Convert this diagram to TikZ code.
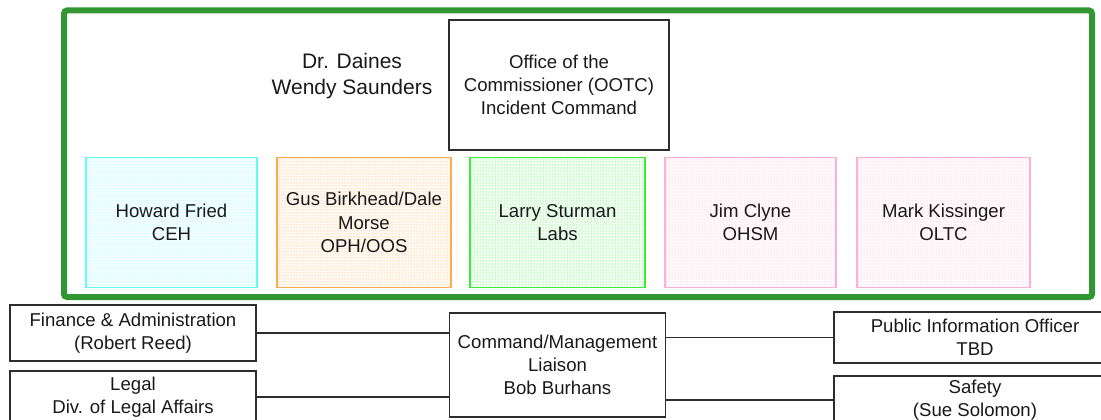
\documentclass[tikz,border=0pt]{standalone}
\usepackage{fontspec}
\setmainfont{Liberation Sans}
\usetikzlibrary{patterns}
\definecolor{cyanB}{RGB}{100,250,250}
\definecolor{orangeB}{RGB}{255,170,80}
\definecolor{greenB}{RGB}{60,235,60}
\definecolor{pinkB}{RGB}{255,175,210}
\definecolor{frameG}{RGB}{50,150,50}
\definecolor{boxgray}{RGB}{45,45,45}
\definecolor{txt}{RGB}{25,25,25}
\tikzset{
  box/.style={draw=boxgray, line width=1.8pt, inner sep=0pt, align=center,
    font=\fontsize{18.6}{23.3}\selectfont, text=txt},
  dotbox/.style={box, draw=#1, line width=1.5pt, fill=#1!6,
    postaction={pattern=dots, pattern color=#1}},
  conn/.style={draw=boxgray, line width=1.8pt},
  grpframe/.style={draw=frameG, line width=6pt, rounded corners=3pt, inner sep=0pt}
}
\begin{document}
\begin{tikzpicture}[x=1pt,y=-1pt]
\useasboundingbox (0,0) rectangle (1101,420);
\node[grpframe, minimum width=1028pt, minimum height=286.5pt] (grp) at (578,153.75) {};
\node[box, minimum width=220pt, minimum height=130pt] (ootc) at (559,85)
  {Office of the\\Commissioner (OOTC)\\Incident Command};
\node[align=center, inner sep=0pt, text=txt, font=\fontsize{21}{26}\selectfont] (dain) at (352,76)
  {Dr. Daines\\Wendy Saunders};
\node[dotbox=cyanB, minimum width=171pt, minimum height=130pt] (ceh) at (171.5,222.5)
  {Howard Fried\\CEH};
\node[dotbox=orangeB, minimum width=174pt, minimum height=130pt] (oph) at (364,222.5)
  {Gus Birkhead/Dale\\Morse\\OPH/OOS};
\node[dotbox=greenB, minimum width=175pt, minimum height=130pt] (labs) at (557.5,222.5)
  {Larry Sturman\\Labs};
\node[dotbox=pinkB, minimum width=171pt, minimum height=130pt] (ohsm) at (750.5,222.5)
  {Jim Clyne\\OHSM};
\node[dotbox=pinkB, minimum width=173pt, minimum height=130pt] (oltc) at (943.5,222.5)
  {Mark Kissinger\\OLTC};
\node[box, minimum width=246pt, minimum height=56pt] (fin) at (133,333)
  {Finance \& Administration\\(Robert Reed)};
\node[box, minimum width=246pt, minimum height=52pt] (legal) at (133,397)
  {Legal\\Div. of Legal Affairs};
\node[box, minimum width=216pt, minimum height=104pt] (cmd) at (557.5,365)
  {Command/Management\\Liaison\\Bob Burhans};
\node[box, minimum width=282pt, minimum height=51pt] (pio) at (975,337.5)
  {Public Information Officer\\TBD};
\node[box, minimum width=282pt, minimum height=48pt] (safety) at (975,400)
  {Safety\\(Sue Solomon)};
\draw[conn] (fin.east) -- (fin.east -| cmd.west);
\draw[conn] (legal.east) -- (legal.east -| cmd.west);
\draw[conn] (pio.west -| cmd.east) -- (pio.west);
\draw[conn] (safety.west -| cmd.east) -- (safety.west);
\end{tikzpicture}
\end{document}
